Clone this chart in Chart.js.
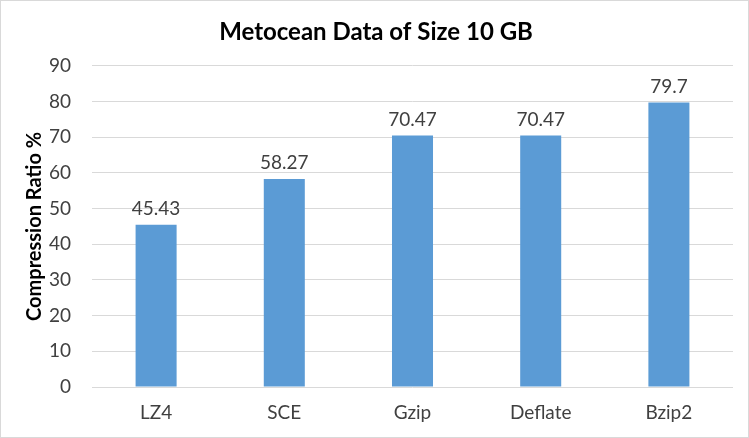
<!DOCTYPE html>
<html>
<head>
<meta charset="utf-8">
<script src="https://cdn.jsdelivr.net/npm/chart.js@4/dist/chart.umd.min.js"></script>
<style>
html,body{margin:0;padding:0;background:#fff;}
#wrap{width:749px;height:438px;position:relative;}
</style>
</head>
<body>
<div id="wrap"><canvas id="c" width="749" height="438"></canvas></div>
<script>
const categories = ["LZ4", "SCE", "Gzip", "Deflate", "Bzip2"];
const compressionRatio = [45.43, 58.27, 70.47, 70.47, 79.7];
const valueLabels = ["45.43", "58.27", "70.47", "70.47", "79.7"];
const yTicks = [0, 10, 20, 30, 40, 50, 60, 70, 80, 90];

const FONT = "Lato, 'Open Sans', sans-serif";

const labelPlugin = {
  id: 'barLabels',
  afterDatasetsDraw(chart) {
    const ctx = chart.ctx;
    const meta = chart.getDatasetMeta(0);
    ctx.save();
    ctx.font = "19px " + FONT;
    ctx.fillStyle = "#404040";
    ctx.textAlign = "center";
    ctx.textBaseline = "alphabetic";
    meta.data.forEach((bar, i) => {
      ctx.fillText(valueLabels[i], bar.x, bar.y - 10);
    });
    ctx.restore();
  }
};

const borderPlugin = {
  id: 'outerBorder',
  beforeDraw(chart) {
    const ctx = chart.ctx;
    ctx.save();
    ctx.fillStyle = "#ffffff";
    ctx.fillRect(0, 0, chart.width, chart.height);
    ctx.strokeStyle = "#D9D9D9";
    ctx.lineWidth = 1;
    ctx.strokeRect(0.5, 0.5, chart.width - 1, chart.height - 1);
    ctx.restore();
  }
};

new Chart(document.getElementById('c'), {
  type: 'bar',
  data: {
    labels: categories,
    datasets: [{
      data: compressionRatio,
      backgroundColor: "#5B9BD5",
      borderWidth: 0,
      categoryPercentage: 1.0,
      barPercentage: 0.32
    }]
  },
  options: {
    responsive: false,
    animation: false,
    layout: { padding: { left: 19, right: 16, top: 0, bottom: 0 } },
    plugins: {
      legend: { display: false },
      tooltip: { enabled: false },
      title: {
        display: true,
        text: "Metocean Data of Size 10 GB",
        color: "#000000",
        font: { family: FONT, size: 24, weight: 'bold' },
        padding: { top: 18, bottom: 19 }
      }
    },
    scales: {
      x: {
        grid: { display: false, drawTicks: false },
        border: { display: false },
        ticks: { color: "#404040", font: { family: FONT, size: 19 }, padding: 14 },
        afterFit(scale) { scale.height = 51; }
      },
      y: {
        min: 0,
        max: 90,
        afterBuildTicks(scale) { scale.ticks = yTicks.map(v => ({ value: v })); },
        grid: { color: "#D9D9D9", lineWidth: 1, drawTicks: false },
        border: { display: false },
        ticks: { color: "#404040", font: { family: FONT, size: 19 }, padding: 21 },
        title: {
          display: true,
          text: "Compression Ratio %",
          color: "#000000",
          font: { family: FONT, size: 20, weight: 'bold' },
          padding: { top: 4, bottom: 0 }
        },
        afterFit(scale) { scale.width = 73; }
      }
    }
  },
  plugins: [borderPlugin, labelPlugin]
});
</script>
</body>
</html>
